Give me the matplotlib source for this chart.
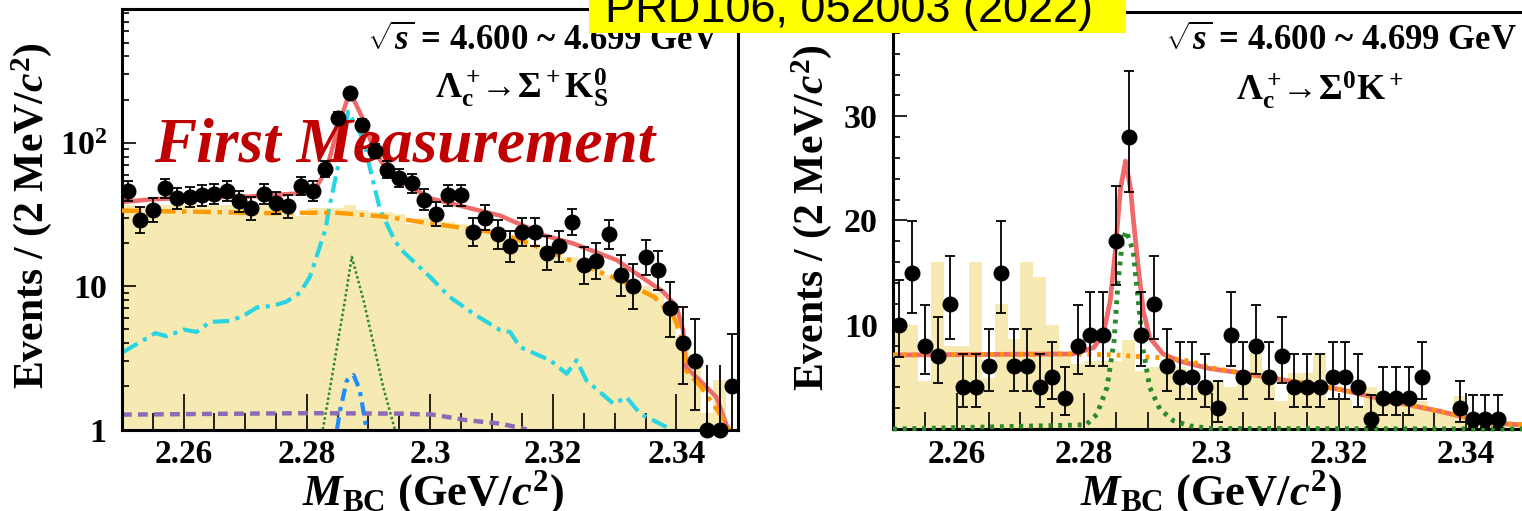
import numpy as np
import matplotlib
matplotlib.use("Agg")
import matplotlib.pyplot as plt
from matplotlib.patches import Rectangle
from matplotlib.ticker import FixedLocator, FixedFormatter, MultipleLocator, LogLocator, NullFormatter

plt.rcParams['font.family'] = ['Liberation Serif', 'DejaVu Serif']
plt.rcParams['font.weight'] = 'bold'
plt.rcParams['mathtext.fontset'] = 'custom'
plt.rcParams['mathtext.rm'] = 'Liberation Serif:bold'
plt.rcParams['mathtext.it'] = 'Liberation Serif:bold:italic'
plt.rcParams['mathtext.bf'] = 'Liberation Serif:bold'

# binning: 2 MeV bins from 2.25 to 2.35 GeV
bin_edges = np.round(np.arange(2.250, 2.3501, 0.002), 3)
bin_centers = 0.5 * (bin_edges[:-1] + bin_edges[1:])

# ---- left panel: Lc -> Sigma+ KS0 (log y) ----
data_left = [46, 29, 34, 48, 41, 42, 43, 44, 46, 39,
             35, 44, 38, 36, 50, 46, 66, 150, 223, 134,
             87, 65, 57, 52, 40, 32, 43, 43, 24, 30,
             23, 19, 24, 24, 17, 19, 28, 14, 15, 23,
             12, 10, 16, 13, 7, 4, 3, 0, 0, 2]
mc_left = [37, 36, 37, 37, 37, 37, 37, 37, 37, 37,
           36, 37, 36, 36, 31, 35, 35, 35, 37, 34,
           33, 33, 32, 27, 30, 29, 28, 27, 25, 24,
           23, 22, 21, 19, 19, 16, 16, 15, 14, 12,
           12, 11, 10, 9, 7, 4.5, 3, 1.3, 2.2, 1.0]

total_left_x = [2.2500, 2.2551, 2.2627, 2.2708, 2.2789, 2.2816, 2.2832, 2.2851, 2.2870, 2.2889,
                2.2903, 2.2919, 2.2940, 2.2968, 2.3000, 2.3114, 2.3168, 2.3184, 2.3233, 2.3303,
                2.3379, 2.3400, 2.3411, 2.3416, 2.3438, 2.3465, 2.3484]
total_left_y = [38.6, 40.4, 41.6, 42.2, 44.4, 49.4, 65, 130, 228, 153,
                105, 76, 58, 49.4, 41, 31, 24.6, 22.7, 19.8, 15.2,
                9.1, 7.2, 4.9, 2.7, 2.2, 1.68, 1.0]

bkg_left_x = [2.2500, 2.2625, 2.2734, 2.2843, 2.2924, 2.3000, 2.3114, 2.3168, 2.3233,
              2.3309, 2.3364, 2.3396, 2.3410, 2.3415, 2.3440, 2.3467, 2.3486]
bkg_left_y = [33.6, 33.0, 32.3, 32.6, 30.6, 27.4, 23.4, 19.3, 14.8,
              11.0, 8.4, 6.1, 4.2, 2.6, 1.98, 1.36, 1.0]

peak_left_x = [2.2502, 2.2554, 2.2573, 2.2600, 2.2621, 2.2643, 2.2675, 2.2697, 2.2719, 2.2746,
               2.2767, 2.2789, 2.2805, 2.2821, 2.2830, 2.2838, 2.2854, 2.2867, 2.2892, 2.2903,
               2.2919, 2.2940, 2.2951, 2.3000, 2.3032, 2.3070, 2.3114, 2.3130, 2.3146, 2.3195,
               2.3222, 2.3238, 2.3254, 2.3298, 2.3319, 2.3341, 2.3384]
peak_left_y = [3.47, 4.7, 4.47, 4.98, 4.79, 5.63, 5.72, 6.2, 7.1, 7.3,
               7.8, 9.0, 11.6, 18.8, 24.6, 37.9, 80, 165, 105, 65,
               34, 22, 18.3, 11.6, 8.4, 6.44, 4.93, 4.79, 3.76, 3.04,
               2.45, 3.04, 2.2, 1.51, 1.68, 1.29, 1.04]

green_left_x = [2.2826, 2.2838, 2.2850, 2.2862, 2.2873, 2.2892, 2.2908, 2.2924, 2.2943]
green_left_y = [1.0, 1.98, 4.0, 8.0, 16, 8.0, 4.0, 1.98, 1.0]

blue_left_x = [2.2849, 2.2854, 2.2865, 2.2876, 2.2886, 2.2897]
blue_left_y = [1.0, 1.36, 2.2, 2.4, 1.88, 1.0]

purple_left_x = [2.2500, 2.2800, 2.2951, 2.3005, 2.3060, 2.3114, 2.3157]
purple_left_y = [1.27, 1.30, 1.29, 1.27, 1.16, 1.10, 1.0]

# ---- right panel: Lc -> Sigma0 K+ (linear y) ----
data_right = [10, 15, 8, 7, 12, 4, 4, 6, 15, 6,
              6, 4, 5, 3, 8, 9, 9, 18, 28, 9,
              12, 6, 5, 5, 4, 2, 9, 5, 8, 5,
              7, 4, 4, 4, 5, 5, 4, 1, 3, 3,
              3, 5, 0, 0, 2, 1, 1, 1, 0, 0]
mc_right = [10, 10, 4.6, 16, 8, 8, 16, 4.9, 12, 8.6,
            16, 14.6, 10, 7, 6.2, 6.5, 6.5, 6.5, 8.5, 5.6,
            5.9, 5.9, 5.9, 4, 4, 4.6, 4, 5.1, 7.3, 5.7,
            2.7, 5.4, 5.4, 7.3, 2.9, 2.9, 2, 4, 2.7, 2.7,
            2.7, 2.7, 2, 1.4, 3.2, 1.4, 1, 1, 0.6, 0.5]

total_right_x = [2.2500, 2.2783, 2.2815, 2.2830, 2.2841, 2.2849, 2.2857, 2.2865, 2.2873, 2.2877,
                 2.2885, 2.2893, 2.2903, 2.2924, 2.2950, 2.2997, 2.3044, 2.3123, 2.3201, 2.3280,
                 2.3358, 2.3400, 2.3437, 2.3500]
total_right_y = [7.1, 7.2, 7.8, 9.1, 12.3, 17.1, 23, 25.7, 23, 20.3,
                 15.5, 11.3, 8.75, 7.2, 6.5, 5.8, 5.4, 4.6, 3.8, 2.7,
                 1.7, 1.1, 0.6, 0.35]

bkg_right_x = [2.2500, 2.2783, 2.2850, 2.2898, 2.2935, 2.2966, 2.2997, 2.3044, 2.3123,
               2.3201, 2.3280, 2.3358, 2.3400, 2.3437, 2.3500]
bkg_right_y = [7.1, 7.2, 7.1, 6.9, 6.8, 6.5, 5.9, 5.4, 4.6,
               3.8, 2.7, 1.7, 1.1, 0.6, 0.35]

sig_right_x = [2.2500, 2.2803, 2.2820, 2.2836, 2.2847, 2.2853, 2.2860, 2.2866, 2.2877, 2.2885,
               2.2893, 2.2903, 2.2919, 2.2940, 2.2966, 2.3000, 2.3500]
sig_right_y = [0.0, 0.4, 1.4, 4.0, 8.4, 13.9, 18.0, 19.0, 17.1, 12.3,
               7.5, 4.0, 1.9, 0.8, 0.3, 0.05, 0.0]

# text
xtick_vals = [2.26, 2.28, 2.30, 2.32, 2.34]
xtick_labels = ["2.26", "2.28", "2.3", "2.32", "2.34"]
ytick_left_vals = [1, 10, 100]
ytick_left_labels = ["1", "10", "10$^2$"]
ytick_right_vals = [10, 20, 30]
ytick_right_labels = ["10", "20", "30"]
energy_text = r"$\sqrt{s}$ = 4.600 ~ 4.699 GeV"
mode_left = r"$\mathrm{\Lambda_c^+\!\!\rightarrow\!\Sigma^+K_S^0}$"
mode_right = r"$\mathrm{\Lambda_c^+\!\!\rightarrow\!\Sigma^0K^+}$"
ylabel_text = r"Events / (2 MeV/$c^2$)"
xlabel_text = r"$M_{\mathrm{BC}}$ (GeV/$c^2$)"

# colours
c_fill = '#f6eab2'
c_total = '#f06a6a'
c_bkg = '#ff9a00'
c_peak = '#2ad4e2'
c_green = '#2a8a2a'
c_blue = '#1e8cff'
c_purple = '#8a6cb4'


def poisson_err(n):
    n = np.asarray(n, dtype=float)
    m = np.maximum(n, 1)
    lo = np.where(n > 0, m * (1 - 1 / (9 * m) - 1 / (3 * np.sqrt(m))) ** 3, 0.0)
    hi = (n + 1) * (1 - 1 / (9 * (n + 1)) + 1 / (3 * np.sqrt(n + 1))) ** 3
    return n - lo, hi - n


W, H = 1522, 511
fig = plt.figure(figsize=(W / 100, H / 100), dpi=100)
axL = fig.add_axes([122 / W, 1 - 429.5 / H, 616 / W, 420 / H])
axR = fig.add_axes([893 / W, 1 - 429 / H, 637 / W, 417 / H])

# ---------- left ----------
axL.set_yscale('log')
axL.set_xlim(2.25, 2.35)
axL.set_ylim(1, 850)
axL.stairs(mc_left, bin_edges, fill=True, color=c_fill, baseline=1, zorder=1)
axL.plot(purple_left_x, purple_left_y, color=c_purple, lw=3.2, ls=(0, (2.2, 1.4)), zorder=2)
axL.plot(peak_left_x, peak_left_y, color=c_peak, lw=3, ls=(0, (4, 1.5, 1, 1.5)), zorder=2)
axL.plot(green_left_x, green_left_y, color=c_green, lw=1.8, ls=(0, (1, 1)), zorder=2)
axL.plot(blue_left_x, blue_left_y, color=c_blue, lw=3, ls=(0, (3, 1.5, 1, 1.5)), zorder=2)
axL.plot(total_left_x, total_left_y, color=c_total, lw=3.2, zorder=2.5)
axL.plot(bkg_left_x, bkg_left_y, color=c_bkg, lw=3.2, ls=(0, (4, 1.5, 1, 1.5)), zorder=2.6)

axL.text(405 / W, 1 - 162 / H, "First Measurement", transform=fig.transFigure,
         ha='center', va='baseline', fontsize=45.5, fontweight='bold', fontstyle='italic',
         color='#c00000', zorder=3)

nL = np.array(data_left, dtype=float)
loL, hiL = poisson_err(nL)
pos = nL > 0
axL.errorbar(bin_centers[pos], nL[pos], yerr=[loL[pos], hiL[pos]], fmt='o', color='black',
             ms=10.5, elinewidth=1.3, capsize=3.5, capthick=1.3, zorder=4)
zero = ~pos
axL.vlines(bin_centers[zero], 1, 1 + hiL[zero], color='black', lw=1.3, zorder=4)
axL.plot(bin_centers[zero], np.ones(zero.sum()), 'o', color='black', ms=10.5, clip_on=False, zorder=5)

axL.xaxis.set_major_locator(FixedLocator(xtick_vals))
axL.xaxis.set_major_formatter(FixedFormatter(xtick_labels))
axL.xaxis.set_minor_locator(MultipleLocator(0.005))
axL.yaxis.set_major_locator(FixedLocator(ytick_left_vals))
axL.yaxis.set_major_formatter(FixedFormatter(ytick_left_labels))
axL.yaxis.set_minor_locator(LogLocator(subs=np.arange(2, 10), numticks=20))
axL.yaxis.set_minor_formatter(NullFormatter())

# ---------- right ----------
axR.set_xlim(2.25, 2.35)
axR.set_ylim(0, 40)
axR.stairs(mc_right, bin_edges, fill=True, color=c_fill, baseline=0, zorder=1)
axR.plot(total_right_x, total_right_y, color=c_total, lw=3.4, zorder=2.5)
axR.plot(bkg_right_x, bkg_right_y, color=c_bkg, lw=3.5, ls=(0, (0.8, 1.2)), zorder=2.6)
axR.plot(sig_right_x, sig_right_y, color=c_green, lw=3.5, ls=(0, (0.8, 1.2)), zorder=2.7,
         clip_on=False)

nR = np.array(data_right, dtype=float)
loR, hiR = poisson_err(nR)
posR = nR > 0
axR.errorbar(bin_centers[posR], nR[posR], yerr=[loR[posR], hiR[posR]], fmt='o', color='black',
             ms=10.5, elinewidth=1.3, capsize=3.5, capthick=1.3, zorder=4)

axR.xaxis.set_major_locator(FixedLocator(xtick_vals))
axR.xaxis.set_major_formatter(FixedFormatter(xtick_labels))
axR.xaxis.set_minor_locator(MultipleLocator(0.005))
axR.yaxis.set_major_locator(FixedLocator(ytick_right_vals))
axR.yaxis.set_major_formatter(FixedFormatter(ytick_right_labels))
axR.yaxis.set_minor_locator(MultipleLocator(2))

for ax in (axL, axR):
    for s in ax.spines.values():
        s.set_linewidth(2.2)
    ax.tick_params(axis='x', which='major', direction='in', length=26, width=1.2, pad=7,
                   labelsize=24)
    ax.tick_params(axis='x', which='minor', direction='in', length=12, width=1.2)
    ax.tick_params(axis='y', which='major', direction='in', length=10, width=1.2, pad=11,
                   labelsize=24.5)
    ax.tick_params(axis='y', which='minor', direction='in', length=5, width=1.2)
    for lab in ax.get_xticklabels() + ax.get_yticklabels():
        lab.set_fontweight('bold')

# axis titles and annotations
fig.text(32 / W, 1 - 216 / H, ylabel_text, rotation=90, ha='center', va='center', fontsize=30)
fig.text(812 / W, 1 - 218 / H, ylabel_text, rotation=90, ha='center', va='center', fontsize=30)
fig.text(433 / W, 1 - 505 / H, xlabel_text, ha='center', va='baseline', fontsize=32)
fig.text(1211 / W, 1 - 505 / H, xlabel_text, ha='center', va='baseline', fontsize=32)
fig.text(543 / W, 1 - 50 / H, energy_text, ha='center', va='baseline', fontsize=25)
fig.text(1341 / W, 1 - 50 / H, energy_text, ha='center', va='baseline', fontsize=25)
fig.text(522 / W, 1 - 98 / H, mode_left, ha='center', va='baseline', fontsize=26)
fig.text(1320 / W, 1 - 100 / H, mode_right, ha='center', va='baseline', fontsize=26)

fig.patches.append(Rectangle((589 / W, 1 - 33 / H), (1126 - 589) / W, 33 / H,
                             transform=fig.transFigure, facecolor='#ffff00',
                             edgecolor='none', zorder=10))
fig.text(849 / W, 1 - 22 / H, "PRD106, 052003 (2022)", ha='center', va='baseline',
         fontsize=32.5, fontweight='normal', family=['Liberation Sans', 'DejaVu Sans'],
         color='black', zorder=11)

fig.savefig("out.png", dpi=100)
